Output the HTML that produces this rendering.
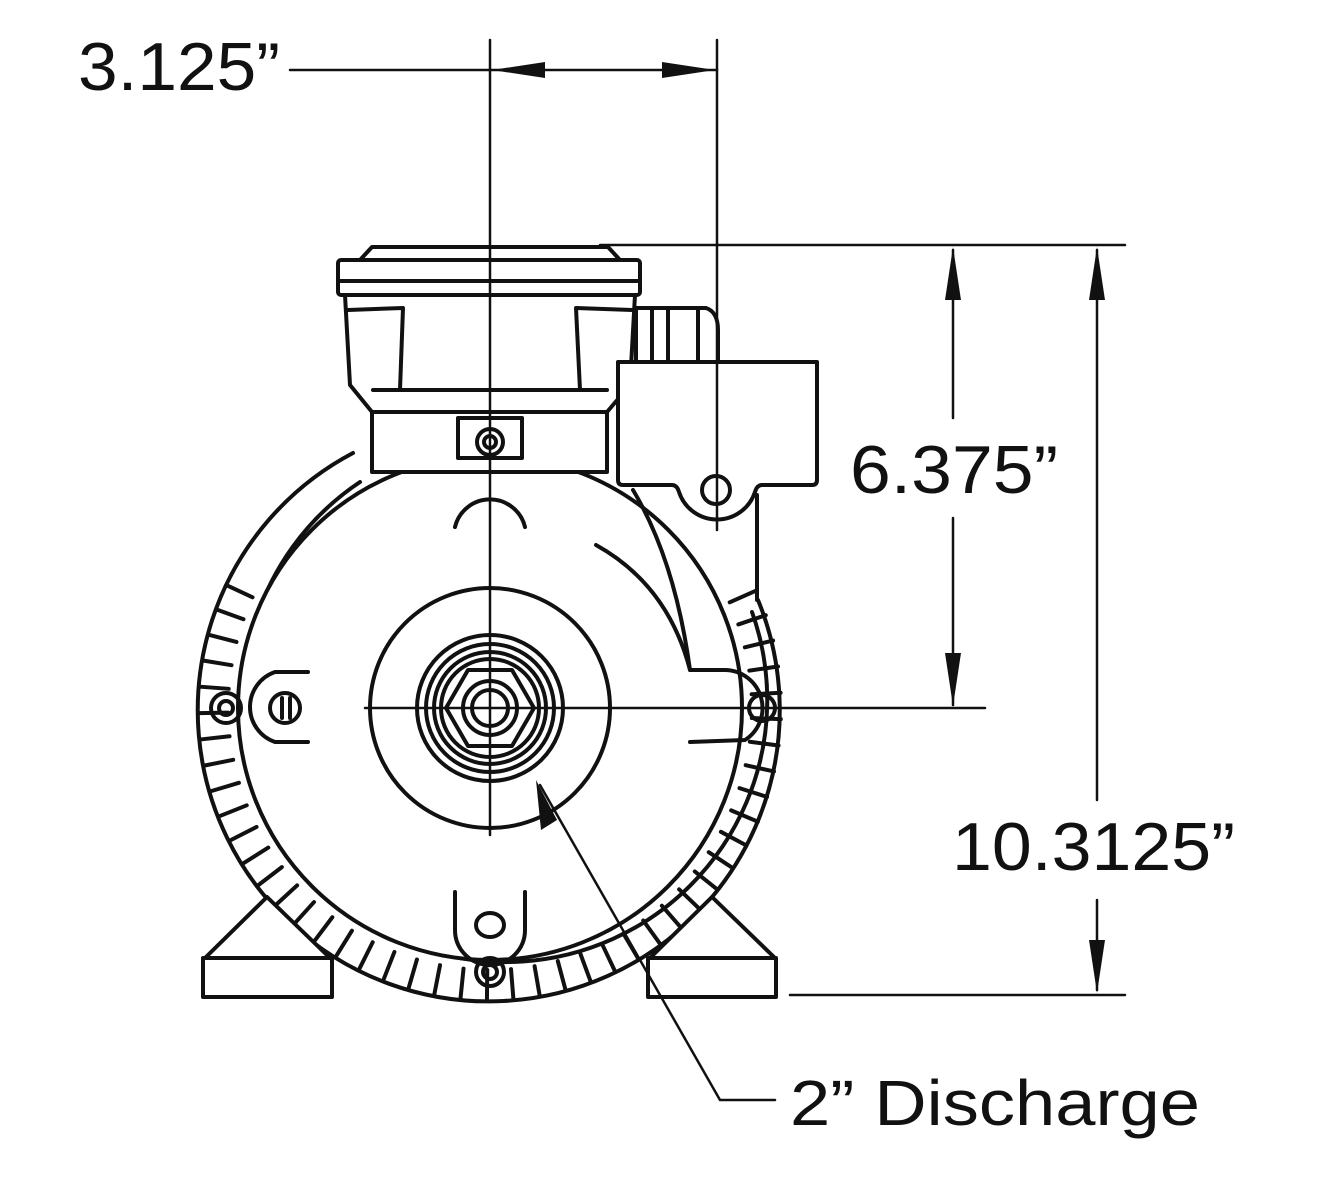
<!DOCTYPE html>
<html><head><meta charset="utf-8"><style>
html,body{margin:0;padding:0;background:#fff}
svg{display:block}
text{font-family:"Liberation Sans",Arial,sans-serif;fill:#111}
</style></head><body>
<svg width="1320" height="1188" viewBox="0 0 1320 1188" xmlns="http://www.w3.org/2000/svg">
<g fill="none" stroke="#111" stroke-linecap="round" stroke-linejoin="round">
<g stroke-width="4">
<path d="M353,453 A291,291 0 1,0 758,600"/>
<path d="M360,482 A262,262 0 1,0 752,612"/>
</g>
<g id="fins" stroke-width="4"></g>
<circle cx="490" cy="708" r="252" fill="#fff" stroke-width="4"/>
<g stroke-width="4" fill="#fff">
<path d="M205,958 L267,897 L330,958"/>
<rect x="203" y="958" width="129" height="39"/>
<path d="M650,958 L712,897 L775,958"/>
<rect x="648" y="958" width="128" height="39"/>
</g>
<g stroke-width="4" fill="#fff">
<rect x="372" y="412" width="235" height="60"/>
<path d="M345,295 L350,385 L372,412 L607,412 L630,385 L635,295 Z"/>
<path d="M348,310 L403,308 L400,390 M632,310 L576,308 L580,390"/>
<path d="M373,390 L607,390"/>
<path d="M372,247 L608,247 L620,260 L360,260 Z"/>
<rect x="338" y="260" width="302" height="35" rx="3"/>
<line x1="338" y1="281" x2="640" y2="281"/>
<rect x="458" y="418" width="64" height="40"/>
<circle cx="490" cy="442" r="13"/>
<circle cx="490" cy="442" r="6"/>
<path d="M636,308 L706,308 Q718,312 718,330 L718,362 L636,362 Z"/>
<line x1="652" y1="308" x2="652" y2="362"/><line x1="668" y1="308" x2="668" y2="362"/><line x1="698" y1="308" x2="698" y2="362"/>
<path d="M618,362 L817,362 L817,480 Q817,485 812,485 L762,485 Q757,485 755,492 A40,40 0 0,1 679,492 Q677,485 672,485 L623,485 Q618,485 618,480 Z"/>
<circle cx="716" cy="490" r="14"/>
<line x1="757" y1="495" x2="757" y2="600"/>
</g>
<g stroke-width="4">
<path d="M633,490 Q675,560 690,670 L725,670 A38,38 0 0,1 745,740 L690,742"/>
<path d="M596,545 Q668,585 690,670"/>
<path d="M455,527 A36,36 0 0,1 525,527"/>
<path d="M455,892 L455,930 A35,35 0 0,0 525,930 L525,892"/>
<ellipse cx="490" cy="925" rx="14" ry="12"/>
<circle cx="490" cy="972" r="14"/><circle cx="490" cy="972" r="7"/>
<path d="M308,672 L275,672 A37,37 0 0,0 275,742 L308,742"/>
<circle cx="285" cy="708" r="15"/><line x1="282" y1="698" x2="282" y2="718"/><line x1="290" y1="698" x2="290" y2="718"/>
<circle cx="226" cy="708" r="15"/><circle cx="226" cy="708" r="7"/>
<circle cx="762" cy="708" r="13"/>
<circle cx="490" cy="708" r="120"/>
<circle cx="490" cy="708" r="73"/>
<circle cx="490" cy="708" r="64"/>
<circle cx="490" cy="708" r="56"/>
<circle cx="490" cy="708" r="49"/>
<path d="M512,670 L534,708 L512,746 L468,746 L446,708 L468,670 Z"/>
<circle cx="490" cy="708" r="27"/>
<circle cx="490" cy="708" r="18"/>
</g>
<g stroke-width="2.5">
<line x1="490" y1="40" x2="490" y2="835"/>
<line x1="717" y1="40" x2="717" y2="530"/>
<line x1="290" y1="70" x2="717" y2="70"/>
<line x1="600" y1="245" x2="1125" y2="245"/>
<line x1="790" y1="995" x2="1125" y2="995"/>
<line x1="365" y1="708" x2="985" y2="708"/>
<line x1="953" y1="250" x2="953" y2="418"/>
<line x1="953" y1="518" x2="953" y2="705"/>
<line x1="1097" y1="250" x2="1097" y2="800"/>
<line x1="1097" y1="900" x2="1097" y2="990"/>
<polyline points="540,785 720,1100 775,1100"/>
</g>
<g fill="#111" stroke="none">
<polygon points="492,70 545,62 545,78"/>
<polygon points="715,70 662,62 662,78"/>
<polygon points="953,247 945,300 961,300"/>
<polygon points="953,706 945,653 961,653"/>
<polygon points="1097,247 1089,300 1105,300"/>
<polygon points="1097,993 1089,940 1105,940"/>
<polygon points="536,780 541,830 557,820"/>
</g>
</g>
<text x="78" y="90" font-size="68" textLength="202" lengthAdjust="spacingAndGlyphs">3.125”</text>
<text x="850" y="493" font-size="68" textLength="208" lengthAdjust="spacingAndGlyphs">6.375”</text>
<text x="952" y="870" font-size="68" textLength="283" lengthAdjust="spacingAndGlyphs">10.3125”</text>
<text x="790" y="1125" font-size="64" textLength="410" lengthAdjust="spacingAndGlyphs">2” Discharge</text>
<script>
(function(){
var g=document.getElementById('fins');var ns='http://www.w3.org/2000/svg';
for(var a=-205;a<=25;a+=5.2){
 var r=a*Math.PI/180;
 var c=Math.cos(r),s=Math.sin(r);
 var l=document.createElementNS(ns,'line');
 l.setAttribute('x1',490+262*c);l.setAttribute('y1',708-262*s);
 l.setAttribute('x2',490+291*c);l.setAttribute('y2',708-291*s);
 g.appendChild(l);
}
})();
</script>
</svg>
</body></html>
